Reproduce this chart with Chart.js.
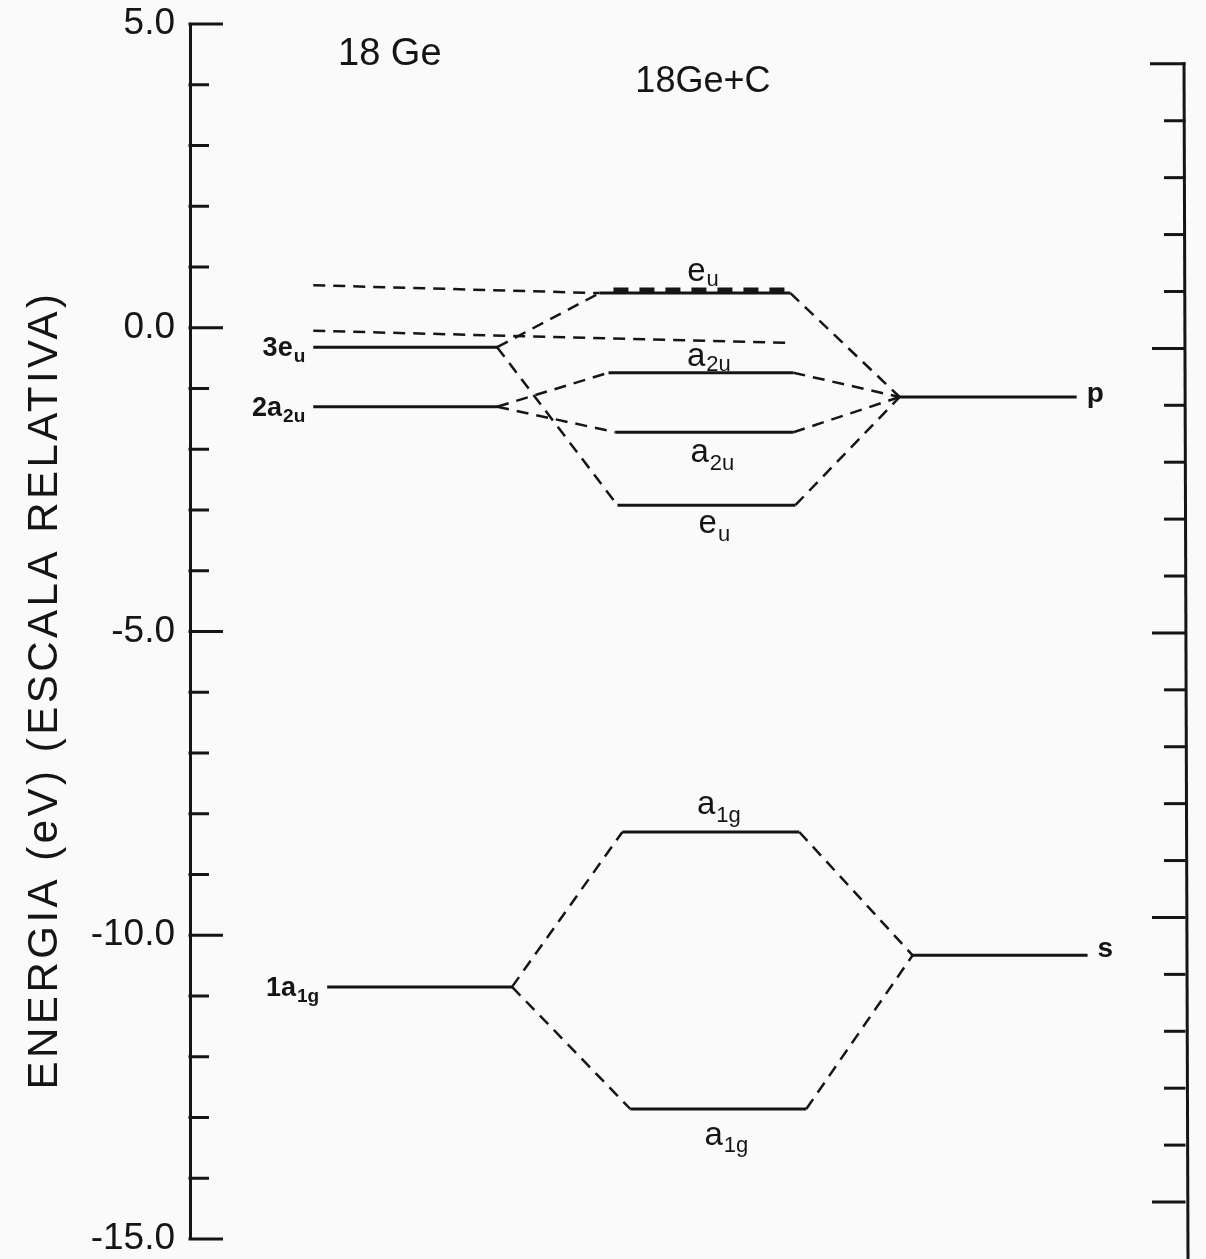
<!DOCTYPE html>
<html>
<head>
<meta charset="utf-8">
<script src="https://cdn.jsdelivr.net/npm/chart.js@4/dist/chart.umd.min.js"></script>
<style>
  html, body { margin: 0; padding: 0; background: #fafafa; }
  #wrap { width: 1206px; height: 1259px; position: relative; }
  canvas { display: block; }
</style>
</head>
<body>
<div id="wrap"><canvas id="c" width="1206" height="1259"></canvas></div>
<script>
// ================= DATA =================
const yTickValues = [5, 0, -5, -10, -15];
const yTickLabels = ['5.0', '0.0', '-5.0', '-10.0', '-15.0'];
const yAxisTitle = 'ENERGIA (eV) (ESCALA RELATIVA)';
const columnTitles = ['18 Ge', '18Ge+C'];

// 18 Ge cluster levels (eV)
const geLevelNames = [['3e', 'u'], ['2a', '2u'], ['1a', '1g']];
const geLevelEnergies = [-0.32, -1.30, -10.85];
// two unlabelled dashed levels (energy at left end, energy at right end)
const geDashedStartEnergies = [0.70, -0.05];
const geDashedEndEnergies = [0.57, -0.25];

// 18Ge+C complex levels (eV)
const complexLevelNames = [['e', 'u'], ['a', '2u'], ['a', '2u'], ['e', 'u'], ['a', '1g'], ['a', '1g']];
const complexLevelEnergies = [0.57, -0.74, -1.72, -2.92, -8.30, -12.86];

// carbon atom levels (eV)
const cLevelNames = ['p', 's'];
const cLevelEnergies = [-1.14, -10.33];

// correlation lines: [Ge level index, complex level index] and [complex index, C index]
const geToComplex = [[0, 0], [0, 3], [1, 1], [1, 2], [2, 4], [2, 5]];
const complexToC = [[0, 0], [1, 0], [2, 0], [3, 0], [4, 1], [5, 1]];

// ================= LAYOUT (x in abstract diagram units 0..100) =================
const geSpans = [[12.4, 30.9], [12.4, 30.9], [13.8, 32.4]];
const geDashedSpans = [[12.4, 41.2], [12.4, 60.2]];
const complexSpans = [[41.2, 60.4], [42.1, 60.7], [42.8, 60.7], [43.0, 60.9], [43.5, 61.3], [44.3, 62.0]];
const topOverlaySpan = [42.6, 60.1];
const cSpans = [[71.4, 89.2], [72.7, 90.3]];
const complexLabelDy = [-12, -7, 30, 28, -18, 36];
const complexLabelSubDy = [5, 5, 8, 8, 8, 7];
const cLabelDy = [5, 2];
const titleX = [20.1, 51.6];
const titleE = [4.49, 4.05];

const FONT = "'Liberation Sans', Arial, Helvetica, sans-serif";
const INK = '#151515';
const DASH = [12, 8];

// ================= DATASETS =================
const datasets = [];
function seg(x0, y0, x1, y1, extra) {
  datasets.push(Object.assign({
    data: [{ x: x0, y: y0 }, { x: x1, y: y1 }],
    borderColor: INK, backgroundColor: INK, borderWidth: 3,
    pointRadius: 0, pointHoverRadius: 0, fill: false, tension: 0,
    borderCapStyle: 'butt'
  }, extra || {}));
}
geLevelEnergies.forEach((e, i) => seg(geSpans[i][0], e, geSpans[i][1], e));
geDashedStartEnergies.forEach((e, i) =>
  seg(geDashedSpans[i][0], e, geDashedSpans[i][1], geDashedEndEnergies[i], { borderDash: DASH, borderWidth: 2.5 }));
complexLevelEnergies.forEach((e, i) => seg(complexSpans[i][0], e, complexSpans[i][1], e));
// heavy dashed overlay on the top e_u level
seg(topOverlaySpan[0], complexLevelEnergies[0] + 0.05, topOverlaySpan[1], complexLevelEnergies[0] + 0.05,
    { borderDash: [15, 11], borderWidth: 5 });
cLevelEnergies.forEach((e, i) => seg(cSpans[i][0], e, cSpans[i][1], e));
geToComplex.forEach(([g, c]) =>
  seg(geSpans[g][1], geLevelEnergies[g], complexSpans[c][0], complexLevelEnergies[c], { borderDash: DASH, borderWidth: 2.5 }));
complexToC.forEach(([c, k]) =>
  seg(complexSpans[c][1], complexLevelEnergies[c], cSpans[k][0], cLevelEnergies[k], { borderDash: DASH, borderWidth: 2.5 }));

// ================= PLUGINS =================
const bgPlugin = {
  id: 'bg',
  beforeDraw(chart) {
    const ctx = chart.ctx;
    ctx.save(); ctx.fillStyle = '#fafafa'; ctx.fillRect(0, 0, chart.width, chart.height); ctx.restore();
  }
};

const axisTicksPlugin = {
  id: 'axisTicks',
  afterDraw(chart) {
    const ctx = chart.ctx;
    const ys = chart.scales.y, y2 = chart.scales.y2;
    ctx.save();
    ctx.strokeStyle = INK; ctx.lineWidth = 3; ctx.lineCap = 'butt';
    // left axis: inward ticks
    const xl = chart.chartArea.left;
    ys.ticks.forEach(t => {
      if (!Number.isInteger(t.value)) return;
      const py = ys.getPixelForValue(t.value);
      const len = (t.value % 5 === 0) ? 33 : 19;
      ctx.beginPath(); ctx.moveTo(xl - 1.5, py); ctx.lineTo(xl + len, py); ctx.stroke();
    });
    // right axis
    const xr = chart.chartArea.right;
    const topPx = y2.getPixelForValue(0);
    ctx.beginPath(); ctx.moveTo(xr, topPx - 1.5); ctx.lineTo(xr + 4, chart.height); ctx.stroke();
    y2.ticks.forEach(t => {
      if (!Number.isInteger(t.value) || t.value > 0) return;
      const py = y2.getPixelForValue(t.value);
      const len = t.value === 0 ? 34 : (t.value % 5 === 0 ? 32 : 20);
      ctx.beginPath(); ctx.moveTo(xr + 1.5, py); ctx.lineTo(xr - len, py); ctx.stroke();
    });
    ctx.restore();
  }
};

function drawSub(ctx, main, sub, x, y, mainFont, subFont, subDy, align) {
  ctx.font = mainFont; const w1 = ctx.measureText(main).width;
  ctx.font = subFont; const w2 = ctx.measureText(sub).width;
  const gap = 1;
  const total = w1 + gap + w2;
  const x0 = align === 'right' ? x - total : (align === 'center' ? x - total / 2 : x);
  ctx.textAlign = 'left'; ctx.textBaseline = 'alphabetic';
  ctx.font = mainFont; ctx.fillText(main, x0, y);
  ctx.font = subFont; ctx.fillText(sub, x0 + w1 + gap, y + subDy);
}

const labelPlugin = {
  id: 'labels',
  afterDraw(chart) {
    const ctx = chart.ctx, xs = chart.scales.x, ys = chart.scales.y;
    ctx.save();
    ctx.fillStyle = INK;
    // y-axis title
    ctx.save();
    ctx.translate(45, 690);
    ctx.rotate(-Math.PI / 2);
    ctx.font = `42px ${FONT}`;
    if ('letterSpacing' in ctx) ctx.letterSpacing = '3.5px';
    ctx.textAlign = 'center'; ctx.textBaseline = 'middle';
    ctx.fillText(yAxisTitle, 0, 0);
    ctx.restore();
    // column titles
    ctx.textAlign = 'center'; ctx.textBaseline = 'middle';
    ctx.font = `38px ${FONT}`;
    ctx.fillText(columnTitles[0], xs.getPixelForValue(titleX[0]), ys.getPixelForValue(titleE[0]));
    ctx.font = `36px ${FONT}`;
    ctx.fillText(columnTitles[1], xs.getPixelForValue(titleX[1]), ys.getPixelForValue(titleE[1]));
    // Ge level labels
    geLevelNames.forEach((n, i) => {
      const x = xs.getPixelForValue(geSpans[i][0]) - 8;
      const y = ys.getPixelForValue(geLevelEnergies[i]) + 9;
      drawSub(ctx, n[0], n[1], x, y, `bold 27px ${FONT}`, `bold 19px ${FONT}`, 6, 'right');
    });
    // complex level labels
    complexLevelNames.forEach((n, i) => {
      const cx = (xs.getPixelForValue(complexSpans[i][0]) + xs.getPixelForValue(complexSpans[i][1])) / 2 + 8;
      const y = ys.getPixelForValue(complexLevelEnergies[i]) + complexLabelDy[i];
      drawSub(ctx, n[0], n[1], cx, y, `500 33px ${FONT}`, `500 22px ${FONT}`, complexLabelSubDy[i], 'center');
    });
    // C level labels
    ctx.font = `bold 28px ${FONT}`;
    ctx.textAlign = 'left'; ctx.textBaseline = 'alphabetic';
    cLevelNames.forEach((n, i) => {
      ctx.fillText(n, xs.getPixelForValue(cSpans[i][1]) + 10, ys.getPixelForValue(cLevelEnergies[i]) + cLabelDy[i]);
    });
    ctx.restore();
  }
};

// ================= CHART =================
new Chart(document.getElementById('c'), {
  type: 'line',
  data: { datasets },
  options: {
    responsive: false,
    animation: false,
    devicePixelRatio: 1,
    events: [],
    layout: { padding: { top: 24, bottom: 20, left: 0, right: 0 } },
    plugins: { legend: { display: false }, tooltip: { enabled: false }, title: { display: false } },
    scales: {
      x: { type: 'linear', min: 0, max: 100, display: false },
      y: {
        type: 'linear', position: 'left', min: -15, max: 5,
        ticks: {
          stepSize: 1, autoSkip: false, padding: 15, color: INK,
          font: { family: FONT, size: 37, lineHeight: 1 },
          callback: (v) => { const i = yTickValues.indexOf(v); return i >= 0 ? yTickLabels[i] : ''; }
        },
        grid: { display: false, drawTicks: false },
        border: { display: true, color: INK, width: 3 },
        afterFit(s) { s.width = 190; s.paddingTop = 0; s.paddingBottom = 0; }
      },
      y2: {
        type: 'linear', position: 'right', min: -20.65, max: 0.70,
        ticks: { stepSize: 1, display: false },
        grid: { display: false, drawTicks: false },
        border: { display: false },
        afterFit(s) { s.width = 22; s.paddingTop = 0; s.paddingBottom = 0; }
      }
    }
  },
  plugins: [bgPlugin, axisTicksPlugin, labelPlugin]
});
</script>
</body>
</html>
